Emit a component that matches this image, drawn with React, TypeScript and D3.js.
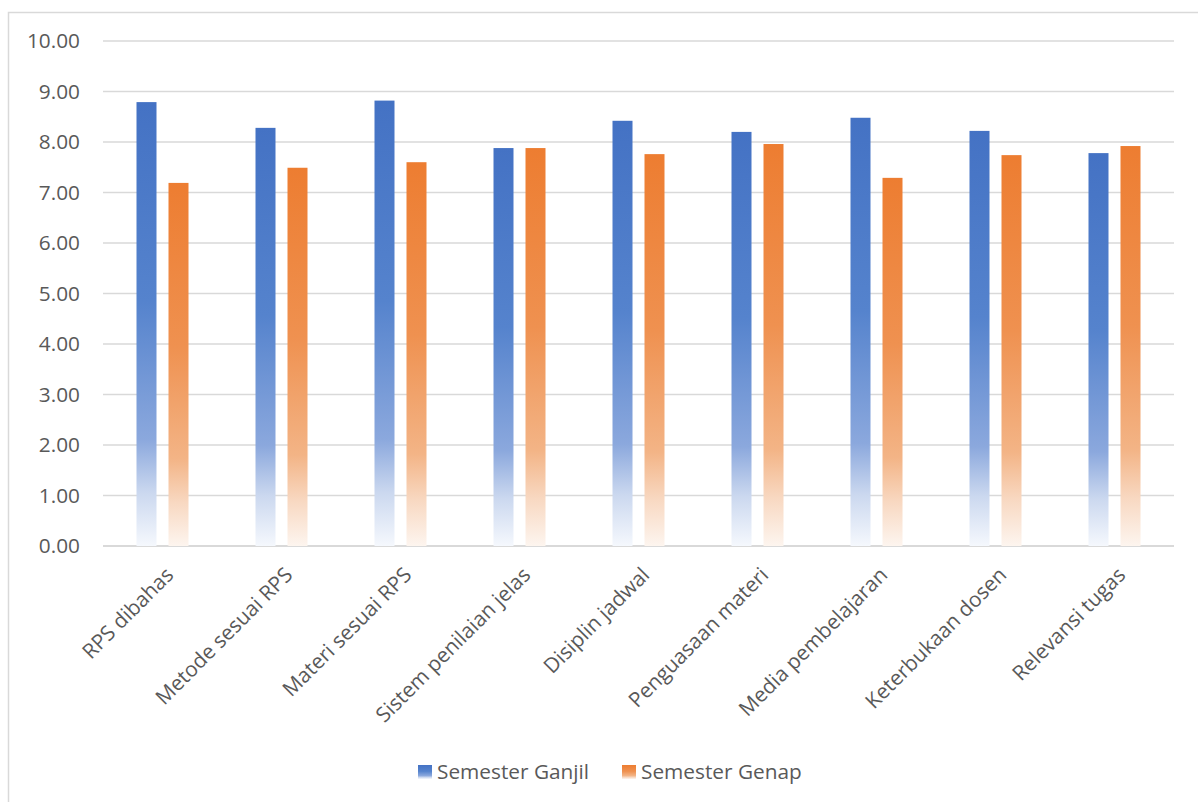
import React from "react";
import * as d3 from "d3";

const categories = [
  "RPS dibahas",
  "Metode sesuai RPS",
  "Materi sesuai RPS",
  "Sistem penilaian jelas",
  "Disiplin jadwal",
  "Penguasaan materi",
  "Media pembelajaran",
  "Keterbukaan dosen",
  "Relevansi tugas",
];
const ganjil = [8.79, 8.28, 8.82, 7.88, 8.42, 8.2, 8.48, 8.22, 7.78];
const genap = [7.19, 7.49, 7.6, 7.88, 7.76, 7.96, 7.29, 7.74, 7.92];
const yTicks = [0, 1, 2, 3, 4, 5, 6, 7, 8, 9, 10];
const seriesNames = ["Semester Ganjil", "Semester Genap"];

const W = 1198;
const H = 802;
const FONT = "'Open Sans', 'Liberation Sans', sans-serif";
const TXT = "#595959";
const FS = 20.8;

export default function App() {
  const left = 103;
  const right = 1174;
  const top = 41;
  const bottom = 546;

  const x = d3.scaleBand<string>().domain(categories).range([left, right]);
  const y = d3.scaleLinear().domain([0, 10]).range([bottom, top]);
  const barW = 20;
  const gap = 12;

  const series = [
    { name: seriesNames[0], values: ganjil, grad: "gBlue" },
    { name: seriesNames[1], values: genap, grad: "gOrange" },
  ];

  const offsets = [-(gap / 2 + barW), gap / 2];

  return (
    <svg width={W} height={H} style={{ position: "absolute", left: 0, top: 0, display: "block" }}>
      <defs>
        <linearGradient id="gBlue" x1="0" y1="0" x2="0" y2="1">
          <stop offset="0" stopColor="#4472C4" />
          <stop offset="0.45" stopColor="#5583cd" />
          <stop offset="0.76" stopColor="#8ba8dd" />
          <stop offset="0.88" stopColor="#cbd8ef" />
          <stop offset="1" stopColor="#f5f8fd" />
        </linearGradient>
        <linearGradient id="gOrange" x1="0" y1="0" x2="0" y2="1">
          <stop offset="0" stopColor="#ED7D31" />
          <stop offset="0.45" stopColor="#ef9150" />
          <stop offset="0.76" stopColor="#f3b486" />
          <stop offset="0.88" stopColor="#f8d8c1" />
          <stop offset="1" stopColor="#fdf5ef" />
        </linearGradient>
      </defs>
      <rect x={0} y={0} width={W} height={H} fill="#fff" />
      <rect x={8.5} y={12.5} width={W + 20} height={H + 20} fill="#fff" stroke="#d9d9d9" strokeWidth={1.5} />

      {yTicks.map((t) => (
        <g key={t}>
          <line x1={left} x2={right} y1={y(t)} y2={y(t)} stroke="#d9d9d9" strokeWidth={t === 0 ? 2 : 1.5} />
          <text x={80} y={y(t)} dy="0.36em" textAnchor="end" fontFamily={FONT} fontSize={FS} fill={TXT}>
            {d3.format(".2f")(t)}
          </text>
        </g>
      ))}

      {series.map((s, si) =>
        s.values.map((v, i) => {
          const cx = (x(categories[i]) as number) + x.bandwidth() / 2;
          return (
            <rect
              key={`${si}-${i}`}
              x={cx + offsets[si]}
              y={y(v)}
              width={barW}
              height={y(0) - y(v)}
              fill={`url(#${s.grad})`}
            />
          );
        })
      )}

      {categories.map((c) => {
        const cx = (x(c) as number) + x.bandwidth() / 2;
        const ax = cx + 2;
        const ay = 566;
        return (
          <text
            key={c}
            x={ax}
            y={ay}
            transform={`rotate(-45 ${ax} ${ay})`}
            textAnchor="end"
            dy="0.7em"
            fontFamily={FONT}
            fontSize={FS}
            fill={TXT}
          >
            {c}
          </text>
        );
      })}

      {series.map((s, si) => {
        const lx = si === 0 ? 418 : 622;
        return (
          <g key={s.name}>
            <rect x={lx} y={765} width={14} height={14} fill={`url(#${s.grad})`} />
            <text x={lx + 19} y={772} dy="0.36em" fontFamily={FONT} fontSize={FS} fill={TXT}>
              {s.name}
            </text>
          </g>
        );
      })}
    </svg>
  );
}
